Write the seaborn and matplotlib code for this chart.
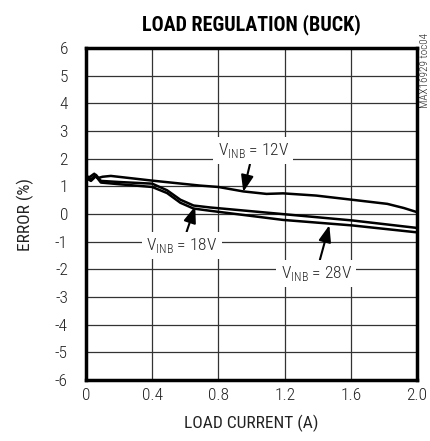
import pandas as pd
import seaborn as sns
import matplotlib.pyplot as plt

# load regulation data
x_12v = [0, 0.02, 0.05, 0.07, 0.1, 0.15, 0.4, 0.69, 0.8, 0.95, 1.09, 1.19, 1.39, 1.62, 1.82, 1.92, 2.0]
y_12v = [1.38, 1.33, 1.46, 1.3, 1.35, 1.38, 1.21, 1.03, 0.98, 0.82, 0.73, 0.75, 0.67, 0.51, 0.37, 0.22, 0.07]

x_18v = [0, 0.03, 0.06, 0.09, 0.2, 0.4, 0.49, 0.57, 0.65, 0.75, 1.19, 1.61, 2.0]
y_18v = [1.36, 1.26, 1.42, 1.2, 1.16, 1.1, 0.86, 0.52, 0.31, 0.24, 0.0, -0.23, -0.5]

x_28v = [0, 0.03, 0.06, 0.09, 0.2, 0.4, 0.49, 0.57, 0.65, 0.75, 1.19, 1.61, 2.0]
y_28v = [1.3, 1.2, 1.37, 1.14, 1.08, 0.98, 0.76, 0.41, 0.2, 0.12, -0.21, -0.41, -0.66]

x_ticks = [0, 0.4, 0.8, 1.2, 1.6, 2.0]
x_ticklabels = ["0", "0.4", "0.8", "1.2", "1.6", "2.0"]
y_ticks = list(range(-6, 7))

sns.set_style("white")
plt.rcParams['font.family'] = ['Roboto Condensed', 'DejaVu Sans']
plt.rcParams['font.weight'] = 'light'
plt.rcParams['mathtext.fontset'] = 'custom'
plt.rcParams['mathtext.rm'] = 'Roboto Condensed:light'
plt.rcParams['axes.unicode_minus'] = False

data = pd.concat([
    pd.DataFrame({"current": x_12v, "error": y_12v, "vin": "12V"}),
    pd.DataFrame({"current": x_18v, "error": y_18v, "vin": "18V"}),
    pd.DataFrame({"current": x_28v, "error": y_28v, "vin": "28V"}),
])

fig = plt.figure(figsize=(4.3, 4.41), dpi=100)
ax = fig.add_axes([0.2, 0.138, 0.77, 0.753])

for vin in ["12V", "18V", "28V"]:
    sns.lineplot(data=data[data.vin == vin], x="current", y="error", sort=False,
                 color="black", lw=1.8, ax=ax, legend=False)

ax.set_xlim(0, 2.0)
ax.set_ylim(-6, 6)
ax.set_xticks(x_ticks)
ax.set_xticklabels(x_ticklabels)
ax.set_yticks(y_ticks)
ax.tick_params(length=0, labelsize=12.5, colors="#222222")
ax.tick_params(axis="x", pad=6)
ax.tick_params(axis="y", pad=13)
ax.grid(True, color="#333333", lw=0.9)
for s in ax.spines.values():
    s.set_linewidth(2.5)
    s.set_color("black")

ax.set_xlabel("LOAD CURRENT (A)", fontsize=12.5, color="#222222", labelpad=8)
ax.set_ylabel("ERROR (%)", fontsize=12.5, color="#222222", labelpad=15)
ax.set_title("LOAD REGULATION (BUCK)", fontsize=14.5, fontweight="bold", pad=13, color="black")

box = dict(facecolor="white", edgecolor="none", pad=3)
arrow = dict(arrowstyle="-|>,head_length=0.8,head_width=0.3", color="black", lw=1.5, shrinkA=0, shrinkB=0)
labels = [(r"V$_{\rm INB}$ = 12V", (0.95, 0.8), (1.01, 2.29)),
          (r"V$_{\rm INB}$ = 18V", (0.66, 0.29), (0.58, -1.13)),
          (r"V$_{\rm INB}$ = 28V", (1.47, -0.4), (1.39, -2.15))]
for text, tip, pos in labels:
    ax.annotate(text, xy=tip, xytext=pos, ha="center", va="center", fontsize=12.5,
                bbox=box, arrowprops=arrow)

fig.text(0.988, 0.841, "MAX16929 toc04", rotation=90, fontsize=8, color="#222222",
         ha="center", va="center")

plt.savefig("out.png", dpi=100)
